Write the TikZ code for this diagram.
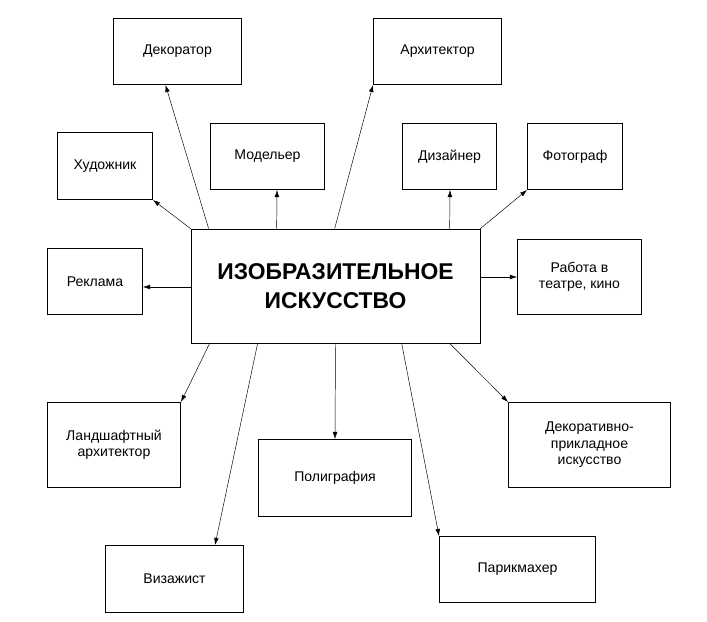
\documentclass[tikz,border=0pt]{standalone}
\usepackage{fontspec}
\setmainfont{Liberation Sans}
\usetikzlibrary{calc,arrows.meta}
\begin{document}
\begin{tikzpicture}[x=0.03cm,y=-0.03cm]
	\tikzstyle{every node}=[inner sep=1pt, align=center, font=\fontsize{12}{14}\selectfont]
	\tikzstyle{job}=[draw, thick, line width=0.6pt]
	\useasboundingbox (0,0) rectangle (707,621);
	\newcommand{\jobbox}[6]{\node[job, minimum width=#4*0.03cm-0.6pt, minimum height=#5*0.03cm-0.6pt] (#1) at (#2,#3) {#6};}
	\node[job, minimum width=289*0.03cm, minimum height=114*0.03cm, font=\fontsize{19.5}{25}\selectfont\bfseries] (art) at (335.5,286) {ИЗОБРАЗИТЕЛЬНОЕ\\ИСКУССТВО};
	\jobbox{dek}{177.5}{51.5}{129}{67}{Декоратор}
	\jobbox{arh}{437.5}{51.5}{129}{67}{Архитектор}
	\jobbox{hud}{105}{166}{96}{68}{Художник}
	\jobbox{mod}{267.5}{156.5}{115}{67}{Модельер}
	\jobbox{diz}{449.5}{156.5}{95}{67}{Дизайнер}
	\jobbox{fot}{575}{156.5}{96}{67}{Фотограф}
	\jobbox{rek}{95}{281.5}{96}{67}{Реклама}
	\jobbox{teatr}{579.5}{277}{125}{76}{Работа в\\театре, кино}
	\jobbox{land}{114}{445}{134}{86}{Ландшафтный\\архитектор}
	\jobbox{poli}{335}{478}{154}{78}{Полиграфия}
	\jobbox{dpi}{589.5}{445}{163}{86}{Декоративно-\\прикладное\\искусство}
	\jobbox{viz}{174.5}{579}{139}{68}{Визажист}
	\jobbox{par}{517.5}{569.5}{157}{67}{Парикмахер}
	\tikzstyle{every path}=[-{Latex[length=6pt,width=4pt]}]
	\draw ($(art.north west)+(18,0)$) -- ($(dek.south)+(-12,0)$);
	\draw ($(art.north west)+(144,0)$) -- ($(arh.south west)+(0,0)$);
	\draw ($(art.north west)+(0,0)$) -- ($(hud.south east)+(0,0)$);
	\draw ($(art.north west)+(86,0)$) -- ($(mod.south)+(9.5,0)$);
	\draw ($(art.north west)+(259,0)$) -- ($(diz.south)+(0.5,0)$);
	\draw (art.north east) -- (fot.south west);
	\draw ($(art.west)+(0,1)$) -- ($(rek.east)+(0,5.5)$);
	\draw ($(art.east)+(0,-9)$) -- ($(teatr.west)+(0,0)$);
	\draw ($(art.south west)+(19,0)$) -- (land.north east);
	\draw (art.south) -- ($(poli.north)+(0,0)$);
	\draw ($(art.south west)+(259,0)$) -- (dpi.north west);
	\draw ($(art.south west)+(67,0)$) -- ($(viz.north)+(40.5,0)$);
	\draw ($(art.south west)+(211,0)$) -- ($(par.north west)+(0,0)$);
\end{tikzpicture}
\end{document}
